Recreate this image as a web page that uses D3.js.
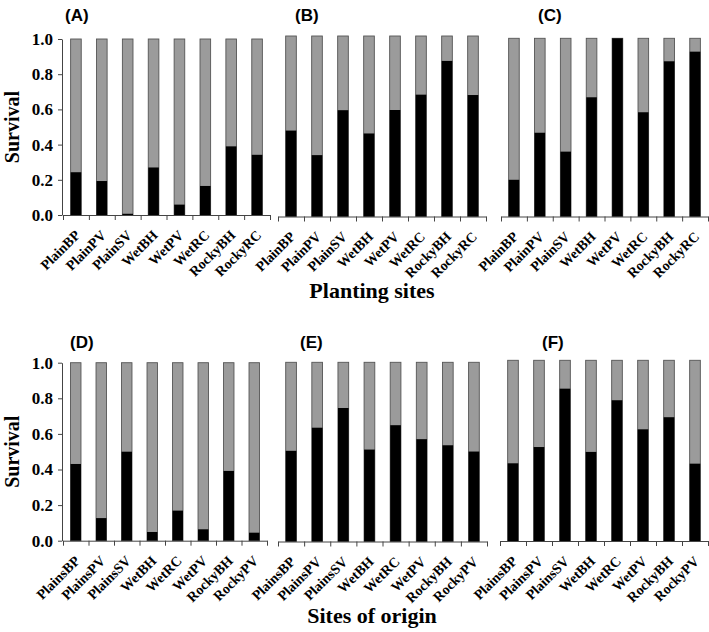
<!DOCTYPE html>
<html><head><meta charset="utf-8">
<script src="https://cdn.jsdelivr.net/npm/d3@7"></script>
<style>body{margin:0;background:#fff}svg{display:block}</style>
</head><body>
<script>
// ---- data ----
const plantingSites = ["PlainBP","PlainPV","PlainSV","WetBH","WetPV","WetRC","RockyBH","RockyRC"];
const originSites   = ["PlainsBP","PlainsPV","PlainsSV","WetBH","WetRC","WetPV","RockyBH","RockyPV"];
const survivalA = [0.243,0.193,0.007,0.270,0.059,0.165,0.390,0.342];
const survivalB = [0.476,0.340,0.589,0.460,0.590,0.675,0.862,0.673];
const survivalC = [0.206,0.470,0.364,0.669,1.000,0.585,0.871,0.925];
const survivalD = [0.431,0.127,0.500,0.049,0.169,0.064,0.392,0.045];
const survivalE = [0.506,0.635,0.745,0.513,0.649,0.571,0.537,0.502];
const survivalF = [0.430,0.520,0.843,0.493,0.779,0.618,0.685,0.428];
const totalProportion = 1.0;
const yTicks = [0,0.2,0.4,0.6,0.8,1.0];
const panelLetters = ["(A)","(B)","(C)","(D)","(E)","(F)"];
const rowTitles = ["Planting sites","Sites of origin"];
const yTitle = "Survival";

// ---- layout ----
const W = 709, H = 632;
const panels = [
  {lab:panelLetters[0], cats:plantingSites, vals:survivalA, x0:63,  x1:270, yTop:39,  yBase:215,   yAxis:true,  lx:65,  ly:21},
  {lab:panelLetters[1], cats:plantingSites, vals:survivalB, x0:278, x1:486, yTop:36,  yBase:216.5, yAxis:false, lx:295, ly:21},
  {lab:panelLetters[2], cats:plantingSites, vals:survivalC, x0:501, x1:708, yTop:38.3,yBase:216.5, yAxis:false, lx:538, ly:21},
  {lab:panelLetters[3], cats:originSites,   vals:survivalD, x0:63,  x1:267, yTop:362.7,yBase:540.7,yAxis:true, lx:70,  ly:348},
  {lab:panelLetters[4], cats:originSites,   vals:survivalE, x0:278, x1:487, yTop:362.3,yBase:541.5,yAxis:false,lx:300, ly:348},
  {lab:panelLetters[5], cats:originSites,   vals:survivalF, x0:500, x1:708, yTop:360.3,yBase:541,  yAxis:false,lx:542, ly:348}
];

const svg = d3.select("body").append("svg").attr("width",W).attr("height",H);
const serif = "'Liberation Serif','Times New Roman',serif";
const sans = "'Liberation Sans',Arial,sans-serif";
const axisCol = "#444";

panels.forEach(p => {
  const g = svg.append("g");
  const x = d3.scaleBand().domain(p.cats).range([p.x0,p.x1]).paddingInner(0.59).paddingOuter(0.295);
  const y = d3.scaleLinear().domain([0,1]).range([p.yBase,p.yTop]);
  const xl = d3.scaleLinear().domain([0,p.cats.length]).range([p.x0,p.x1]);

  // gray (total) bars
  g.selectAll("rect.tot").data(p.cats).join("rect").attr("class","tot")
    .attr("x",d=>x(d)).attr("width",x.bandwidth())
    .attr("y",y(totalProportion)).attr("height",y(0)-y(totalProportion))
    .attr("fill","#9b9b9b").attr("stroke","#555").attr("stroke-width",0.9);
  // black survival bars
  g.selectAll("rect.surv").data(p.vals).join("rect").attr("class","surv")
    .attr("x",(d,i)=>x(p.cats[i])).attr("width",x.bandwidth())
    .attr("y",d=>y(d)).attr("height",d=>y(0)-y(d))
    .attr("fill","#000");

  // x axis line with ticks at band boundaries
  const xa = g.append("g").attr("transform",`translate(0,${p.yBase})`)
    .call(d3.axisBottom(xl).tickValues(d3.range(0,p.cats.length+1)).tickFormat("").tickSize(5).tickSizeOuter(0));
  xa.select(".domain").attr("stroke",axisCol);
  xa.selectAll(".tick line").attr("stroke",axisCol);

  // category labels
  g.selectAll("text.cat").data(p.cats).join("text").attr("class","cat")
    .attr("transform",d=>`translate(${x(d)+x.bandwidth()/2+5},${p.yBase+21}) rotate(-45)`)
    .attr("text-anchor","end")
    .attr("font-family",serif).attr("font-weight","bold").attr("font-size",14)
    .text(d=>d);

  if (p.yAxis) {
    const ya = g.append("g").attr("transform",`translate(${p.x0 - 1},0)`)
      .call(d3.axisLeft(y).tickValues(yTicks).tickFormat(d3.format(".1f")).tickSize(4).tickSizeOuter(0).tickPadding(5));
    ya.select(".domain").attr("stroke",axisCol);
    ya.selectAll(".tick line").attr("stroke",axisCol);
    ya.selectAll(".tick text").attr("font-family",serif).attr("font-weight","bold").attr("font-size",17).attr("fill","#000");
    svg.append("text")
      .attr("transform",`translate(19,${(p.yTop+p.yBase)/2}) rotate(-90)`)
      .attr("text-anchor","middle")
      .attr("font-family",serif).attr("font-weight","bold").attr("font-size",20)
      .text(yTitle);
  }

  svg.append("text").attr("x",p.lx).attr("y",p.ly)
    .attr("font-family",sans).attr("font-weight","bold").attr("font-size",17)
    .text(p.lab);
});

svg.append("text").attr("x",372).attr("y",298).attr("text-anchor","middle")
  .attr("font-family",serif).attr("font-weight","bold").attr("font-size",22).text(rowTitles[0]);
svg.append("text").attr("x",372).attr("y",623).attr("text-anchor","middle")
  .attr("font-family",serif).attr("font-weight","bold").attr("font-size",22).text(rowTitles[1]);
</script>
</body></html>
